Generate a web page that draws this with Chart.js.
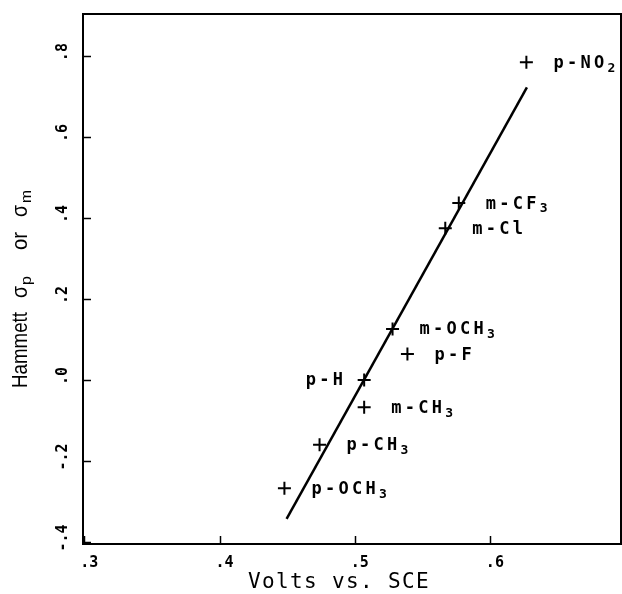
<!DOCTYPE html>
<html>
<head>
<meta charset="utf-8">
<script src="https://cdn.jsdelivr.net/npm/chart.js@4.4.1/dist/chart.umd.min.js"></script>
<style>
  html, body { margin: 0; padding: 0; background: #fff; }
  canvas { display: block; }
</style>
</head>
<body>
<canvas id="c" width="622" height="594"></canvas>
<script>
// ---- data ----
const substituents = ['p-NO_2', 'm-CF_3', 'm-Cl', 'm-OCH_3', 'p-F', 'p-H', 'm-CH_3', 'p-CH_3', 'p-OCH_3'];
const volts = [0.627, 0.577, 0.567, 0.528, 0.539, 0.507, 0.507, 0.474, 0.448];
const sigma = [0.785, 0.437, 0.375, 0.126, 0.064, 0.0, -0.067, -0.160, -0.267];
const fitVolts = [0.4496, 0.6274];
const fitSigma = [-0.343, 0.723];
const xTickValues = [0.3, 0.4, 0.5, 0.6];
const xTickLabels = ['.3', '.4', '.5', '.6'];
const yTickValues = [-0.4, -0.2, 0.0, 0.2, 0.4, 0.6, 0.8];
const yTickLabels = ['-.4', '-.2', '.0', '.2', '.4', '.6', '.8'];
const xTitle = 'Volts vs. SCE';
const yTitleParts = ['Hammett', 'σ', 'p', 'or', 'σ', 'm'];

// label placement relative to each point (style only)
const labelSide = ['r', 'r', 'r', 'r', 'r', 'l', 'r', 'r', 'r'];

function parseTokens(text) {
  const out = [];
  for (let i = 0; i < text.length; i++) {
    if (text[i] === '_') { out.push({ ch: text[i + 1], sub: true }); i++; }
    else out.push({ ch: text[i], sub: false });
  }
  return out;
}

function drawSpaced(ctx, text, x, y, opt) {
  const toks = parseTokens(text);
  let total = 0;
  toks.forEach(t => total += t.sub ? opt.subAdv : opt.adv);
  let cx = opt.align === 'right' ? x - total : x;
  ctx.textAlign = 'left';
  ctx.textBaseline = 'middle';
  toks.forEach(t => {
    if (t.sub) {
      ctx.font = opt.subFont;
      ctx.fillText(t.ch, cx, y + opt.subDy);
      cx += opt.subAdv;
    } else {
      ctx.font = opt.font;
      ctx.fillText(t.ch, cx, y);
      cx += opt.adv;
    }
  });
}

const decor = {
  id: 'decor',
  afterDraw(chart) {
    const ctx = chart.ctx;
    const a = chart.chartArea;
    const xs = chart.scales.x, ys = chart.scales.y;
    ctx.save();
    ctx.strokeStyle = '#000';
    ctx.fillStyle = '#000';
    // frame
    ctx.lineWidth = 2;
    ctx.strokeRect(a.left, a.top, a.right - a.left, a.bottom - a.top);
    // ticks
    ctx.lineWidth = 1.5;
    xTickValues.forEach(v => {
      const px = Math.round(xs.getPixelForValue(v)) + 0.5;
      ctx.beginPath(); ctx.moveTo(px, a.bottom); ctx.lineTo(px, a.bottom - 8); ctx.stroke();
    });
    yTickValues.forEach(v => {
      const py = Math.round(ys.getPixelForValue(v)) + 0.5;
      ctx.beginPath(); ctx.moveTo(a.left, py); ctx.lineTo(a.left + 8, py); ctx.stroke();
    });
    // tick labels
    ctx.font = 'bold 15px "DejaVu Sans Mono"';
    ctx.textAlign = 'center';
    ctx.textBaseline = 'middle';
    xTickValues.forEach((v, i) => {
      ctx.fillText(xTickLabels[i], xs.getPixelForValue(v) + 5, a.bottom + 19);
    });
    yTickValues.forEach((v, i) => {
      ctx.save();
      ctx.translate(a.left - 20, ys.getPixelForValue(v) - 4);
      ctx.rotate(-Math.PI / 2);
      ctx.fillText(yTickLabels[i], 0, 0);
      ctx.restore();
    });
    // point labels
    const lopt = {
      font: 'bold 17px "DejaVu Sans Mono"', adv: 13.5,
      subFont: 'bold 13px "DejaVu Sans Mono"', subAdv: 9, subDy: 5
    };
    substituents.forEach((s, i) => {
      const px = xs.getPixelForValue(volts[i]);
      const py = ys.getPixelForValue(sigma[i]);
      if (labelSide[i] === 'l') {
        drawSpaced(ctx, s, px - 18, py + 1, Object.assign({ align: 'right' }, lopt));
      } else {
        drawSpaced(ctx, s, px + 27, py + 1, Object.assign({ align: 'left' }, lopt));
      }
    });
    // x title
    drawSpaced(ctx, xTitle, a.left + 165, a.bottom + 39, {
      font: '21px "DejaVu Sans Mono"', adv: 14, subFont: '14px "DejaVu Sans Mono"', subAdv: 9, subDy: 5, align: 'left'
    });
    // y title (rotated)
    ctx.save();
    ctx.translate(21, a.bottom - 156);
    ctx.rotate(-Math.PI / 2);
    ctx.textBaseline = 'middle';
    ctx.textAlign = 'left';
    const big = '22px "Liberation Sans"';
    const small = '14px "Liberation Sans"';
    function piece(txt, font, pos, width, dy) {
      ctx.font = font;
      const w = ctx.measureText(txt).width;
      ctx.save();
      ctx.translate(pos, dy);
      ctx.scale(width / w, 1);
      ctx.fillText(txt, 0, 0);
      ctx.restore();
    }
    piece(yTitleParts[0], big, 0, 76, 0);
    piece(yTitleParts[1], big, 90, 12, 0);
    piece(yTitleParts[2], small, 103, 9, 6);
    piece(yTitleParts[3], big, 138, 18, 0);
    piece(yTitleParts[4], big, 171, 12, 0);
    piece(yTitleParts[5], small, 185, 13, 6);
    ctx.restore();
    ctx.restore();
  }
};

new Chart(document.getElementById('c'), {
  type: 'scatter',
  data: {
    datasets: [
      {
        type: 'line',
        data: fitVolts.map((x, i) => ({ x: x, y: fitSigma[i] })),
        borderColor: '#000',
        borderWidth: 2.5,
        pointRadius: 0,
        fill: false,
        tension: 0
      },
      {
        type: 'scatter',
        data: volts.map((x, i) => ({ x: x, y: sigma[i] })),
        pointStyle: 'cross',
        pointRadius: 6.5,
        borderColor: '#000',
        backgroundColor: '#000',
        borderWidth: 2
      }
    ]
  },
  options: {
    responsive: false,
    animation: false,
    devicePixelRatio: 1,
    layout: { autoPadding: false, padding: { left: 83, top: 14, right: 1, bottom: 50 } },
    plugins: { legend: { display: false }, tooltip: { enabled: false }, title: { display: false } },
    scales: {
      x: { type: 'linear', display: false, min: 0.299, max: 0.697 },
      y: { type: 'linear', display: false, min: -0.405, max: 0.904 }
    }
  },
  plugins: [decor]
});
</script>
</body>
</html>
